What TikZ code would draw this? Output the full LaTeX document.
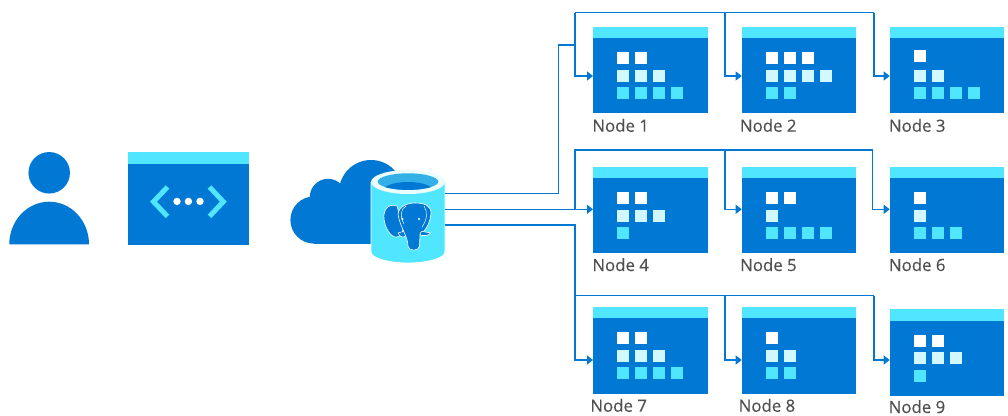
\documentclass[tikz,border=0pt]{standalone}
\usepackage{fontspec}
\setmainfont{Open Sans}
\newfontfamily\labelface{Open Sans}[FakeBold=0.35]
\usetikzlibrary{arrows.meta}
\definecolor{azure}{HTML}{0078D4}
\definecolor{cyanband}{HTML}{50E6FF}
\definecolor{palecyan}{HTML}{D2F8FF}
\definecolor{labelgray}{HTML}{505050}
\definecolor{wellblue}{HTML}{32B0E7}
\tikzset{
  vmbody/.style={rectangle,fill=azure,draw=none,inner sep=0pt,minimum width=114.5pt,anchor=north west},
  vmlabel/.style={anchor=base west,inner sep=0pt,text=labelgray,font=\labelface\fontsize{16.8}{18}\selectfont},
  wire/.style={draw=azure,line width=1.1pt},
  arrowwire/.style={wire,-{Triangle[length=6pt,width=9pt]}},
  elephantline/.style={draw=white,line width=0.6pt,fill=azure,line join=round},
}
% name, x, top, height, top-row count, mid-row count, bottom-row count, first row shift, label
\newcommand{\vmbox}[9]{%
  \node[vmbody,minimum height=#4pt] (#1) at (#2,#3) {};
  \fill[cyanband] (#2,#3) rectangle ++(114.5,11.6);
  \foreach \c in {1,...,#5}{\fill[white] ({#2+24.3+18*(\c-1)},{#3+25.6+#8}) rectangle ++(12,12);}
  \foreach \c in {1,...,#6}{\fill[palecyan] ({#2+24.3+18*(\c-1)},{#3+43}) rectangle ++(12,12);}
  \foreach \c in {1,...,#7}{\fill[cyanband] ({#2+24.3+18*(\c-1)},{#3+60.6}) rectangle ++(12,12);}
  \vmlabelnode{#1}{#9}}
\newcommand{\vmlabelnode}[2]{\node[vmlabel] (#1label) at (\lx,\ly) {#2};}
\begin{document}
\begin{tikzpicture}[x=1pt,y=-1pt]
\useasboundingbox (0,0) rectangle (1008,415);

% person
\node[circle,fill=azure,inner sep=0pt,minimum size=41.5pt] (head) at (49.2,172.8) {};
\fill[azure] (9.3,244.3) .. controls (9.3,220.8) and (27.1,201.7) .. (49.2,201.7) .. controls (71.3,201.7) and (89,220.8) .. (89,244.3) -- cycle;

% api window
\node[rectangle,fill=azure,inner sep=0pt,minimum width=121pt,minimum height=92pt,anchor=north west] (api) at (128,152.3) {};
\fill[cyanband] (128,152.3) rectangle ++(121,12);
\draw[cyanband,line width=5pt,miter limit=10] (167.5,187) -- (153.5,201.7) -- (167.5,216.4);
\draw[cyanband,line width=5pt,miter limit=10] (209.5,187) -- (223.3,201.7) -- (209.5,216.4);
\foreach \x in {177,188.4,200}{\fill[white] (\x,201.4) circle[radius=3.7];}

% cloud
\fill[azure] (314,220) circle[radius=23.6];
\fill[azure] (328,197) circle[radius=18.2];
\fill[azure] (371,192) circle[radius=32];
\fill[azure] (314,200) rectangle (385,243.5);

% worker nodes
\def\lx{592.2}\def\ly{131.7}\vmbox{n1}{593}{26.5}{86.7}{2}{3}{4}{0}{Node 1}
\def\lx{739.8}\def\ly{131.7}\vmbox{n2}{741.7}{26.5}{86.7}{3}{4}{2}{0}{Node 2}
\def\lx{888.8}\def\ly{131.7}\vmbox{n3}{889.7}{26.5}{86.7}{1}{2}{4}{-2.3}{Node 3}
\def\lx{592.2}\def\ly{271}\vmbox{n4}{593}{166.7}{86.5}{2}{3}{1}{0}{Node 4}
\def\lx{740}\def\ly{271}\vmbox{n5}{741.7}{166.7}{86.5}{2}{1}{4}{0}{Node 5}
\def\lx{888.8}\def\ly{271}\vmbox{n6}{889.7}{166.7}{86.5}{1}{1}{3}{0}{Node 6}
\def\lx{590.2}\def\ly{411.7}\vmbox{n7}{593}{306.7}{86.8}{2}{3}{4}{0}{Node 7}
\def\lx{738.5}\def\ly{411.7}\vmbox{n8}{741.7}{306.7}{86.8}{1}{2}{2}{0}{Node 8}
\def\lx{888.5}\def\ly{413}\vmbox{n9}{889.7}{309}{86.8}{2}{3}{1}{0}{Node 9}

% database (cylinder)
\fill[cyanband,draw=white,line width=0.8pt] (371,182) -- (371,252) .. controls (371,258) and (388,263) .. (408,263) .. controls (428,263) and (445,258) .. (445,252) -- (445,182) -- cycle;
\node[rectangle,inner sep=0pt,minimum width=74pt,minimum height=93pt,anchor=north west] (db) at (371,170) {};
\fill[palecyan!45!white] (408,182) ellipse[x radius=37,y radius=12];
\fill[wellblue] (408,181.6) ellipse[x radius=30.3,y radius=8.3];
\begin{scope}
  \clip (408,181.6) ellipse[x radius=30.3,y radius=8.3];
  \fill[azure] (408,191.5) ellipse[x radius=26,y radius=9.5];
\end{scope}

% elephant
\draw[elephantline] (397,206) .. controls (388,203) and (383,210) .. (384,219) .. controls (385,228) and (391,238) .. (397,237) .. controls (401,236) and (403,232) .. (403,228) -- cycle;
\draw[elephantline] (398,233) -- (405,231) -- (406,236) .. controls (403,238) and (400,237) .. (398,233) -- cycle;
\draw[elephantline] (420,231) -- (431,233) .. controls (428,236) and (423,236) .. (420,235) -- cycle;
\draw[elephantline] (398,214) .. controls (399,206) and (408,203) .. (415,203) .. controls (425,203) and (431,206) .. (431,213) .. controls (431,220) and (427,228) .. (424,231) .. controls (422,232) and (420,231) .. (420,234) -- (419.5,246) .. controls (419.5,251.5) and (408,251.5) .. (408,246) .. controls (408,236) and (400,228) .. (398,214) -- cycle;
\draw[draw=white,line width=0.5pt] (406,206) .. controls (400,209) and (400,218) .. (404,224);
\draw[draw=white,line width=0.5pt] (424,206) .. controls (428,212) and (427,220) .. (422,227);
\fill[white] (402.5,219) circle[radius=1.1];
\fill[white] (419,219) circle[radius=1.1];

% routing points
\coordinate (tap1) at (558.3,193.7);
\coordinate (tap1b) at (558.3,45);
\coordinate (bus1a) at (575,12.5);
\coordinate (bus1b) at (725,12.5);
\coordinate (bus1c) at (874,12.5);
\coordinate (in1) at (575,76);
\coordinate (in2) at (725,76);
\coordinate (in3) at (874,76);
\coordinate (mid) at (575,209.3);
\coordinate (bus2a) at (575,150);
\coordinate (bus2b) at (725,150);
\coordinate (bus2c) at (872.7,150);
\coordinate (in5) at (725,209.3);
\coordinate (in6) at (872.7,209.3);
\coordinate (low) at (575,225);
\coordinate (bus3a) at (575,295.6);
\coordinate (bus3b) at (725,295.6);
\coordinate (bus3c) at (874,295.6);
\coordinate (in7) at (575,360);
\coordinate (in8) at (725,360);
\coordinate (in9) at (874,360);

% connectors
\draw[wire] (db.east |- tap1) -- (tap1) -- (tap1b) -- (tap1b -| bus1a);
\draw[arrowwire] (bus1a) -- (in1) -- (in1 -| n1.west);
\draw[wire] (bus1a) -- (bus1c);
\draw[arrowwire] (bus1b) -- (in2) -- (in2 -| n2.west);
\draw[arrowwire] (bus1c) -- (in3) -- (in3 -| n3.west);

\draw[arrowwire] (db.east |- mid) -- (mid -| n4.west);
\draw[wire] (mid) -- (bus2a) -- (bus2c);
\draw[arrowwire] (bus2b) -- (in5) -- (in5 -| n5.west);
\draw[arrowwire] (bus2c) -- (in6) -- (in6 -| n6.west);

\draw[wire] (db.east |- low) -- (low) -- (bus3a);
\draw[arrowwire] (bus3a) -- (in7) -- (in7 -| n7.west);
\draw[wire] (bus3a) -- (bus3c);
\draw[arrowwire] (bus3b) -- (in8) -- (in8 -| n8.west);
\draw[arrowwire] (bus3c) -- (in9) -- (in9 -| n9.west);
\end{tikzpicture}
\end{document}
